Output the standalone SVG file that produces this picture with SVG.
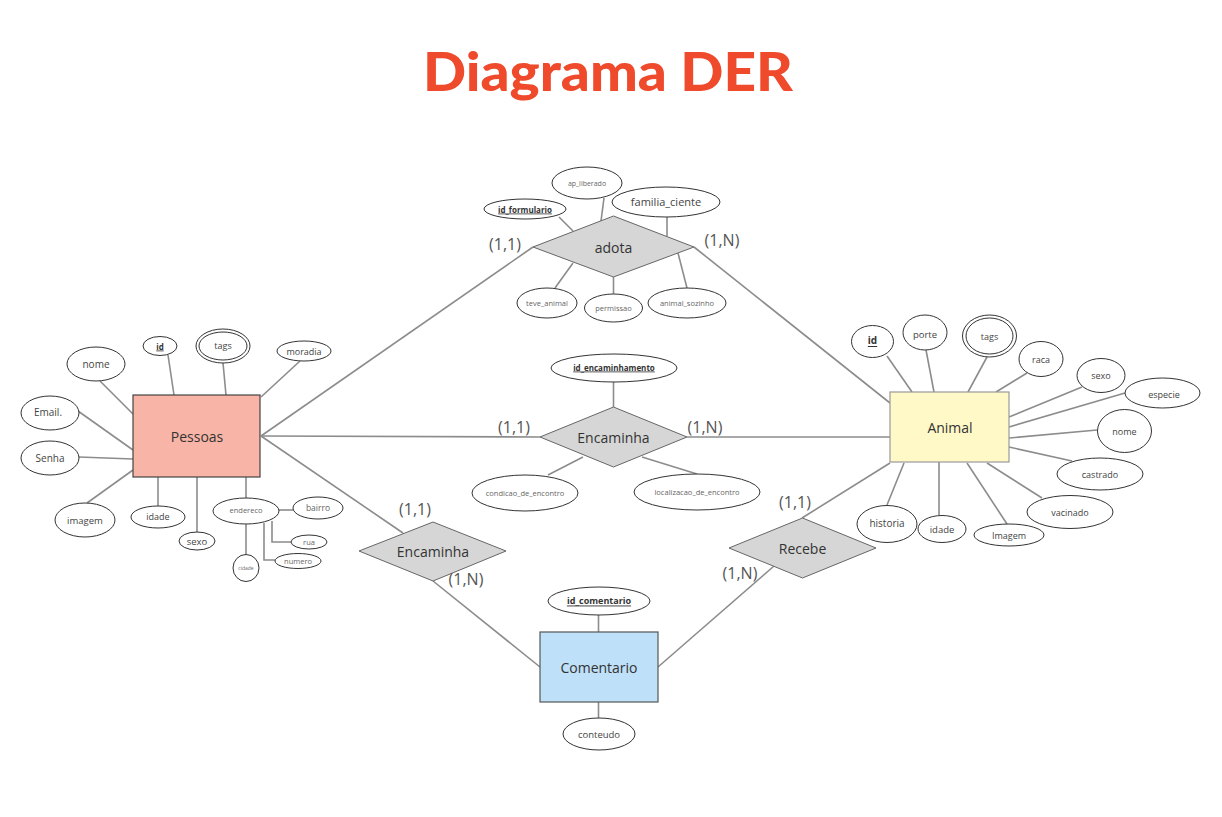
<svg xmlns="http://www.w3.org/2000/svg" width="1222" height="817" viewBox="0 0 1222 817">
<style>
text{font-family:"Open Sans","Noto Sans","Liberation Sans",sans-serif;text-anchor:middle;dominant-baseline:central;fill:#444}
.title{font-family:Lato,"Noto Sans","Liberation Sans",sans-serif;font-weight:900;font-size:54px;fill:#ef4a2b;dominant-baseline:alphabetic}
.att{fill:#fff;stroke:#333;stroke-width:1}
.con{stroke:#8c8c8c;stroke-width:1.6;fill:none}
.rel{fill:#d6d6d6;stroke:#666;stroke-width:1}
.card{font-size:16px;fill:#555}
.ent{font-size:14px;fill:#333}
.key{font-weight:bold;text-decoration:underline;fill:#333}
.lt{fill:#666}
</style>
<rect width="1222" height="817" fill="#fff"/>
<text class="title" x="608" y="91" textLength="370" lengthAdjust="spacingAndGlyphs">Diagrama DER</text>

<g id="connectors">
<line class="con" x1="100" y1="381" x2="133" y2="414"/>
<line class="con" x1="168" y1="355" x2="174" y2="395"/>
<line class="con" x1="223" y1="363" x2="226" y2="395"/>
<line class="con" x1="300" y1="361" x2="261" y2="397"/>
<line class="con" x1="78" y1="411" x2="133" y2="450"/>
<line class="con" x1="79" y1="457" x2="133" y2="459"/>
<line class="con" x1="87" y1="503" x2="133" y2="470"/>
<line class="con" x1="158" y1="477" x2="158" y2="506"/>
<line class="con" x1="197" y1="477" x2="197" y2="532"/>
<line class="con" x1="246" y1="477" x2="246" y2="498"/>
<line class="con" x1="279" y1="510" x2="293" y2="510"/>
<polyline class="con" points="272,521 272,542 291,542"/>
<polyline class="con" points="264,523 264,560 275,560"/>
<line class="con" x1="246" y1="524" x2="246" y2="554"/>
<line class="con" x1="261" y1="436" x2="533" y2="247"/>
<line class="con" x1="694" y1="247" x2="890" y2="403"/>
<line class="con" x1="261" y1="436" x2="540" y2="437"/>
<line class="con" x1="687" y1="437" x2="890" y2="437"/>
<line class="con" x1="261" y1="436" x2="403" y2="533"/>
<line class="con" x1="433" y1="581" x2="540" y2="667"/>
<line class="con" x1="658" y1="667" x2="774" y2="566"/>
<line class="con" x1="802" y1="518" x2="890" y2="463"/>
<line class="con" x1="559" y1="217" x2="573" y2="231"/>
<line class="con" x1="604" y1="198" x2="601" y2="221"/>
<line class="con" x1="667" y1="217" x2="667" y2="236"/>
<line class="con" x1="555" y1="288" x2="573" y2="263"/>
<line class="con" x1="613.5" y1="277" x2="613.5" y2="294"/>
<line class="con" x1="678" y1="253" x2="687" y2="288"/>
<line class="con" x1="613.5" y1="382" x2="613.5" y2="407"/>
<line class="con" x1="548" y1="475" x2="583" y2="457"/>
<line class="con" x1="642" y1="457" x2="697" y2="474"/>
<line class="con" x1="598.5" y1="615" x2="598.5" y2="632"/>
<line class="con" x1="598.5" y1="702" x2="598.5" y2="718"/>
<line class="con" x1="887" y1="356" x2="912" y2="392"/>
<line class="con" x1="926" y1="350" x2="934" y2="392"/>
<line class="con" x1="987" y1="357" x2="968" y2="392"/>
<line class="con" x1="1027" y1="373" x2="996" y2="392"/>
<line class="con" x1="1082" y1="387" x2="1009" y2="417"/>
<line class="con" x1="1125" y1="393" x2="1009" y2="427"/>
<line class="con" x1="1097" y1="430" x2="1009" y2="438"/>
<line class="con" x1="1072" y1="461" x2="1009" y2="447"/>
<line class="con" x1="1042" y1="498" x2="987" y2="463"/>
<line class="con" x1="1007" y1="524" x2="967" y2="463"/>
<line class="con" x1="939" y1="462" x2="939" y2="515"/>
<line class="con" x1="904" y1="463" x2="887" y2="505"/>
</g>

<g id="pessoas">
<rect x="133" y="395" width="127" height="82" fill="#f8b4a6" stroke="#444" stroke-width="1.2"/>
<text class="ent" x="197" y="436">Pessoas</text>
</g>
<g id="pessoas-nome"><ellipse class="att" cx="96" cy="364" rx="29" ry="17"/><text x="96" y="364" font-size="10">nome</text></g>
<g id="pessoas-id"><ellipse class="att" cx="160" cy="346" rx="17" ry="9.5"/><text class="key" x="160" y="346" font-size="8">id</text></g>
<g id="pessoas-tags"><ellipse class="att" cx="223" cy="346" rx="27" ry="17"/><ellipse class="att" cx="223" cy="346" rx="24" ry="14"/><text x="223" y="345" font-size="9">tags</text></g>
<g id="pessoas-moradia"><ellipse class="att" cx="304" cy="351" rx="27" ry="10"/><text x="304" y="351" font-size="9">moradia</text></g>
<g id="pessoas-email"><ellipse class="att" cx="50" cy="413" rx="29" ry="17"/><text x="48" y="412" font-size="10">Email.</text></g>
<g id="pessoas-senha"><ellipse class="att" cx="50" cy="458" rx="29" ry="17"/><text x="50" y="458" font-size="10">Senha</text></g>
<g id="pessoas-imagem"><ellipse class="att" cx="85" cy="520" rx="30" ry="17"/><text x="85" y="520" font-size="9.5">imagem</text></g>
<g id="pessoas-idade"><ellipse class="att" cx="158" cy="517" rx="27" ry="11"/><text x="158" y="516" font-size="9">idade</text></g>
<g id="pessoas-sexo"><ellipse class="att" cx="197" cy="541" rx="18" ry="9"/><text x="197" y="541" font-size="9.5">sexo</text></g>
<g id="pessoas-endereco"><ellipse class="att" cx="246" cy="511" rx="33" ry="13"/><text class="lt" x="246" y="510" font-size="7.5">endereco</text></g>
<g id="pessoas-bairro"><ellipse class="att" cx="318" cy="508" rx="25" ry="11"/><text class="lt" x="318" y="507" font-size="8.5">bairro</text></g>
<g id="pessoas-rua"><ellipse class="att" cx="309" cy="542" rx="18" ry="7"/><text class="lt" x="309" y="542" font-size="7.5">rua</text></g>
<g id="pessoas-numero"><ellipse class="att" cx="298" cy="561" rx="23" ry="7.5"/><text class="lt" x="298" y="561" font-size="7.5">numero</text></g>
<g id="pessoas-cidade"><ellipse class="att" cx="246" cy="568" rx="13" ry="13.5"/><text class="lt" x="246" y="568" font-size="5">cidade</text></g>

<g id="adota">
<polygon class="rel" points="533,247 613.5,216 694,247 613.5,277"/>
<text class="ent" x="613.5" y="247">adota</text>
<text class="card" x="505" y="244">(1,1)</text>
<text class="card" x="722" y="240">(1,N)</text>
</g>
<g id="adota-id_formulario"><ellipse class="att" cx="525" cy="209" rx="41" ry="10"/><text class="key" x="525" y="209" font-size="8">id_formulario</text></g>
<g id="adota-ap_liberado"><ellipse class="att" cx="587" cy="183" rx="35" ry="16"/><text class="lt" x="587" y="183" font-size="7">ap_liberado</text></g>
<g id="adota-familia_ciente"><ellipse class="att" cx="666" cy="202" rx="54" ry="15"/><text x="666" y="201" font-size="11">familia_ciente</text></g>
<g id="adota-teve_animal"><ellipse class="att" cx="547" cy="303" rx="30" ry="15"/><text class="lt" x="547" y="303" font-size="7.5">teve_animal</text></g>
<g id="adota-permissao"><ellipse class="att" cx="613.5" cy="308" rx="29" ry="14"/><text class="lt" x="613.5" y="308" font-size="7.5">permissao</text></g>
<g id="adota-animal_sozinho"><ellipse class="att" cx="687" cy="303" rx="39" ry="15"/><text class="lt" x="687" y="303" font-size="7.5">animal_sozinho</text></g>

<g id="encaminha">
<polygon class="rel" points="540,437 613.5,407 687,437 613.5,467"/>
<text class="ent" x="613.5" y="437">Encaminha</text>
<text class="card" x="514" y="427">(1,1)</text>
<text class="card" x="705" y="427">(1,N)</text>
</g>
<g id="encaminha-id_encaminhamento"><ellipse class="att" cx="614" cy="368" rx="63" ry="14"/><text class="key" x="614" y="367" font-size="8">id_encaminhamento</text></g>
<g id="encaminha-condicao"><ellipse class="att" cx="525" cy="493" rx="53" ry="18"/><text class="lt" x="525" y="493" font-size="7.5">condicao_de_encontro</text></g>
<g id="encaminha-localizacao"><ellipse class="att" cx="697" cy="492" rx="63" ry="18"/><text class="lt" x="697" y="492" font-size="7.5">localizacao_de_encontro</text></g>

<g id="encaminha2">
<polygon class="rel" points="359,551 433,522 506,551 433,581"/>
<text class="ent" x="433" y="551">Encaminha</text>
<text class="card" x="415" y="509">(1,1)</text>
<text class="card" x="466" y="579">(1,N)</text>
</g>

<g id="recebe">
<polygon class="rel" points="729,548 802.5,518 876,548 802.5,578"/>
<text class="ent" x="802.5" y="548">Recebe</text>
<text class="card" x="795" y="502">(1,1)</text>
<text class="card" x="740" y="573">(1,N)</text>
</g>

<g id="comentario">
<rect x="540" y="632" width="118" height="70" fill="#bee0f8" stroke="#555" stroke-width="1.2"/>
<text class="ent" x="599" y="667">Comentario</text>
</g>
<g id="comentario-id"><ellipse class="att" cx="599" cy="601" rx="51" ry="14"/><text class="key" x="599" y="600" font-size="9">id_comentario</text></g>
<g id="comentario-conteudo"><ellipse class="att" cx="599" cy="734" rx="36" ry="16"/><text x="599" y="734" font-size="9.5">conteudo</text></g>

<g id="animal">
<rect x="890" y="392" width="119" height="70" fill="#fff9c8" stroke="#999" stroke-width="1.2"/>
<text class="ent" x="950" y="427">Animal</text>
</g>
<g id="animal-id"><ellipse class="att" cx="872.5" cy="341.5" rx="21" ry="16"/><text class="key" x="872.5" y="340" font-size="10">id</text></g>
<g id="animal-porte"><ellipse class="att" cx="925" cy="332.5" rx="22" ry="17.5"/><text x="925" y="334" font-size="9.5">porte</text></g>
<g id="animal-tags"><ellipse class="att" cx="989.5" cy="336" rx="27" ry="21"/><ellipse class="att" cx="989.5" cy="336" rx="23.5" ry="18"/><text x="989.5" y="336" font-size="9">tags</text></g>
<g id="animal-raca"><ellipse class="att" cx="1041" cy="359" rx="22" ry="17.5"/><text x="1041" y="359" font-size="9">raca</text></g>
<g id="animal-sexo"><ellipse class="att" cx="1101" cy="375.5" rx="24" ry="17"/><text x="1101" y="375" font-size="9">sexo</text></g>
<g id="animal-especie"><ellipse class="att" cx="1162.5" cy="393" rx="37.5" ry="15"/><text x="1164" y="394" font-size="9">especie</text></g>
<g id="animal-nome"><ellipse class="att" cx="1124.5" cy="431" rx="27" ry="21.5"/><text x="1124.5" y="431" font-size="9">nome</text></g>
<g id="animal-castrado"><ellipse class="att" cx="1100" cy="474" rx="43" ry="16"/><text x="1100" y="474" font-size="9">castrado</text></g>
<g id="animal-vacinado"><ellipse class="att" cx="1070" cy="512" rx="43" ry="16.5"/><text x="1070" y="512" font-size="9">vacinado</text></g>
<g id="animal-imagem"><ellipse class="att" cx="1009" cy="535" rx="35" ry="11"/><text x="1009" y="535" font-size="9">Imagem</text></g>
<g id="animal-idade"><ellipse class="att" cx="942" cy="529" rx="24" ry="13.5"/><text x="942" y="529" font-size="9.5">idade</text></g>
<g id="animal-historia"><ellipse class="att" cx="887" cy="524" rx="30" ry="18.5"/><text x="887" y="523" font-size="10">historia</text></g>
</svg>
